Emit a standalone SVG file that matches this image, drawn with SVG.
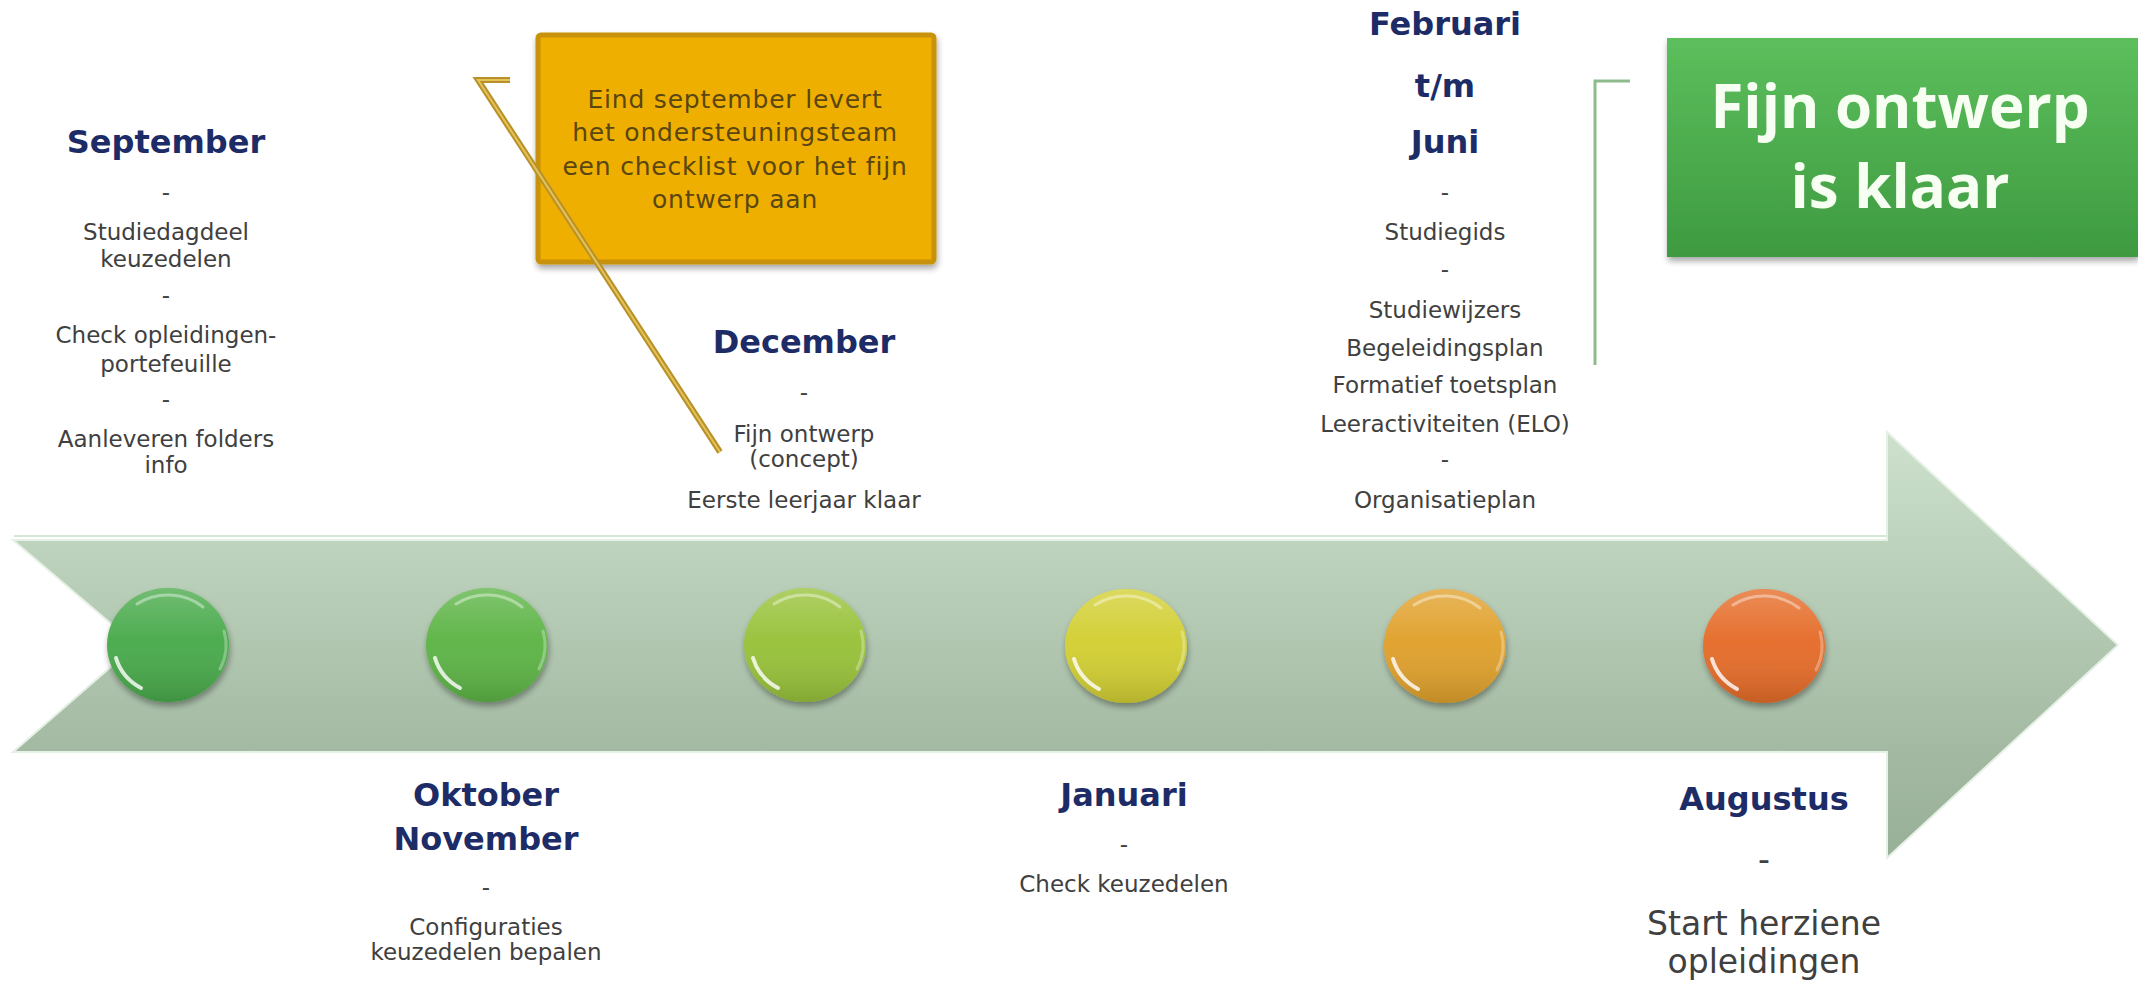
<svg xmlns="http://www.w3.org/2000/svg" xmlns:xlink="http://www.w3.org/1999/xlink" width="2138" height="984" viewBox="0 0 2138 984">
<style>
.hd{font-family:"DejaVu Sans",sans-serif;font-weight:bold;font-size:32px;fill:#1d2c66;text-anchor:middle}
.tx{font-family:"DejaVu Sans",sans-serif;font-size:23px;fill:#404040;text-anchor:middle}
.big{font-family:"DejaVu Sans",sans-serif;font-size:33px;fill:#404040;text-anchor:middle}
.cb{font-family:"DejaVu Sans",sans-serif;font-size:25px;letter-spacing:0.8px;fill:#5a4612;text-anchor:middle}
.gb{font-family:"Open Sans",sans-serif;font-weight:bold;font-size:60px;fill:#f6fff2;text-anchor:middle}
</style>
<defs>
<linearGradient id="arrowGrad" gradientUnits="userSpaceOnUse" x1="0" y1="432" x2="0" y2="858">
<stop offset="0" stop-color="#cde1cd"/>
<stop offset="0.25" stop-color="#bfd4be"/>
<stop offset="0.75" stop-color="#a3b9a2"/>
<stop offset="1" stop-color="#98af98"/>
</linearGradient>
<linearGradient id="greenGrad" x1="0" y1="0" x2="0" y2="1">
<stop offset="0" stop-color="#5cbf5c"/>
<stop offset="1" stop-color="#3e9a40"/>
</linearGradient>
<linearGradient id="glossGrad" x1="0" y1="0" x2="0" y2="1">
<stop offset="0" stop-color="#ffffff" stop-opacity="0.22"/>
<stop offset="0.45" stop-color="#ffffff" stop-opacity="0.03"/>
<stop offset="1" stop-color="#000000" stop-opacity="0.14"/>
</linearGradient>
<filter id="shadow" x="-20%" y="-20%" width="140%" height="150%">
<feGaussianBlur in="SourceAlpha" stdDeviation="3"/>
<feOffset dx="1" dy="4" result="o"/>
<feComponentTransfer><feFuncA type="linear" slope="0.35"/></feComponentTransfer>
<feMerge><feMergeNode/><feMergeNode in="SourceGraphic"/></feMerge>
</filter>
<g id="gloss">
<ellipse rx="61" ry="57" fill="url(#glossGrad)"/>
<path d="M -31 -41 A 54 50 0 0 1 35 -38" fill="none" stroke="#ffffff" stroke-opacity="0.4" stroke-width="3" stroke-linecap="round"/>
<path d="M -27 43 A 54 50 0 0 1 -52 13" fill="none" stroke="#ffffff" stroke-opacity="0.8" stroke-width="4" stroke-linecap="round"/>
<path d="M 56 -14 A 58 54 0 0 1 52 24" fill="none" stroke="#ffffff" stroke-opacity="0.3" stroke-width="3" stroke-linecap="round"/>
</g>
</defs>

<rect width="2138" height="984" fill="#ffffff"/>

<g id="timeline-arrow">
<path d="M 13 540 L 1887 540 L 1887 432 L 2118 645 L 1887 858 L 1887 752 L 13 752 L 136 645 Z" fill="url(#arrowGrad)" stroke="#e6f1e6" stroke-width="2"/>
<line x1="14" y1="536" x2="1887" y2="536" stroke="#d5e8d5" stroke-width="2"/>
</g>

<g id="dot1" transform="translate(168,645)" filter="url(#shadow)"><ellipse rx="61" ry="57" fill="#49aa4b"/><use xlink:href="#gloss"/></g>
<g id="dot2" transform="translate(487,645)" filter="url(#shadow)"><ellipse rx="61" ry="57" fill="#5db446"/><use xlink:href="#gloss"/></g>
<g id="dot3" transform="translate(805,645)" filter="url(#shadow)"><ellipse rx="61" ry="57" fill="#98c23a"/><use xlink:href="#gloss"/></g>
<g id="dot4" transform="translate(1126,646)" filter="url(#shadow)"><ellipse rx="61" ry="57" fill="#d2cf33"/><use xlink:href="#gloss"/></g>
<g id="dot5" transform="translate(1445,646)" filter="url(#shadow)"><ellipse rx="61" ry="57" fill="#e0a12c"/><use xlink:href="#gloss"/></g>
<g id="dot6" transform="translate(1764,646)" filter="url(#shadow)"><ellipse rx="61" ry="57" fill="#e56c29"/><use xlink:href="#gloss"/></g>

<g id="callout">
<rect x="538" y="35" width="396" height="227" rx="3" fill="#efaf00" stroke="#c8920a" stroke-width="5" filter="url(#shadow)"/>
<text class="cb" x="735" y="108">Eind september levert</text>
<text class="cb" x="735" y="141">het ondersteuningsteam</text>
<text class="cb" x="735" y="175">een checklist voor het fijn</text>
<text class="cb" x="735" y="208">ontwerp aan</text>
</g>

<g id="done-box">
<rect x="1667" y="38" width="471" height="219" fill="url(#greenGrad)" filter="url(#shadow)"/>
<text class="gb" x="1900" y="128">Fijn ontwerp</text>
<text class="gb" x="1900" y="208">is klaar</text>
</g>

<g id="connectors">
<polyline points="510,80 478,80 720,452" fill="none" stroke="#b89128" stroke-width="6" stroke-linejoin="miter"/>
<polyline points="510,80 478,80 720,452" fill="none" stroke="#e4c25a" stroke-width="2"/>
<polyline points="1630,81 1595,81 1595,365" fill="none" stroke="#8dbb8d" stroke-width="3"/>
</g>

<g id="september">
<text class="hd" x="166" y="153">September</text>
<text class="tx" x="166" y="200">-</text>
<text class="tx" x="166" y="240">Studiedagdeel</text>
<text class="tx" x="166" y="267">keuzedelen</text>
<text class="tx" x="166" y="303">-</text>
<text class="tx" x="166" y="343">Check opleidingen-</text>
<text class="tx" x="166" y="372">portefeuille</text>
<text class="tx" x="166" y="407">-</text>
<text class="tx" x="166" y="447">Aanleveren folders</text>
<text class="tx" x="166" y="473">info</text>
</g>

<g id="december">
<text class="hd" x="804" y="353">December</text>
<text class="tx" x="804" y="400">-</text>
<text class="tx" x="804" y="442">Fijn ontwerp</text>
<text class="tx" x="804" y="467">(concept)</text>
<text class="tx" x="804" y="508">Eerste leerjaar klaar</text>
</g>

<g id="februari-juni">
<text class="hd" x="1445" y="35">Februari</text>
<text class="hd" x="1445" y="97">t/m</text>
<text class="hd" x="1445" y="153">Juni</text>
<text class="tx" x="1445" y="200">-</text>
<text class="tx" x="1445" y="240">Studiegids</text>
<text class="tx" x="1445" y="277">-</text>
<text class="tx" x="1445" y="318">Studiewijzers</text>
<text class="tx" x="1445" y="356">Begeleidingsplan</text>
<text class="tx" x="1445" y="393">Formatief toetsplan</text>
<text class="tx" x="1445" y="432">Leeractiviteiten (ELO)</text>
<text class="tx" x="1445" y="467">-</text>
<text class="tx" x="1445" y="508">Organisatieplan</text>
</g>

<g id="oktober-november">
<text class="hd" x="486" y="806">Oktober</text>
<text class="hd" x="486" y="850">November</text>
<text class="tx" x="486" y="895">-</text>
<text class="tx" x="486" y="935">Configuraties</text>
<text class="tx" x="486" y="960">keuzedelen bepalen</text>
</g>

<g id="januari">
<text class="hd" x="1124" y="806">Januari</text>
<text class="tx" x="1124" y="852">-</text>
<text class="tx" x="1124" y="892">Check keuzedelen</text>
</g>

<g id="augustus">
<text class="hd" x="1764" y="810">Augustus</text>
<text class="big" x="1764" y="871">-</text>
<text class="big" x="1764" y="935">Start herziene</text>
<text class="big" x="1764" y="973">opleidingen</text>
</g>
</svg>
